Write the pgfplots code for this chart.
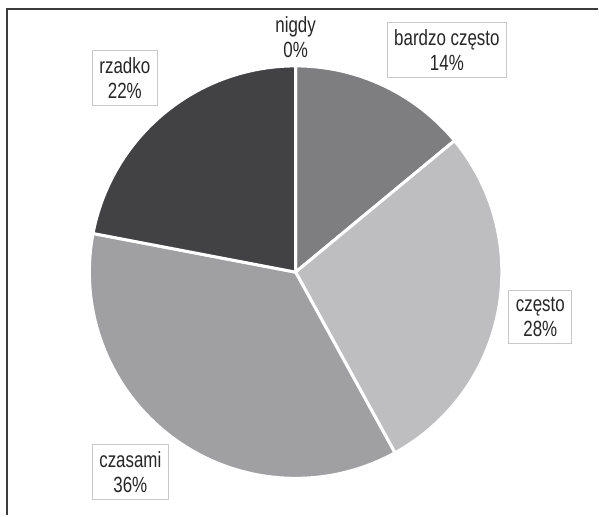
\documentclass[border=0pt]{standalone}
\usepackage{pgfplots}
\pgfplotsset{compat=1.18}
\usepackage{fontspec}
\setmainfont{Liberation Sans}[FakeStretch=0.77]
\definecolor{cA}{RGB}{126,126,128}
\definecolor{cB}{RGB}{190,190,192}
\definecolor{cC}{RGB}{160,160,162}
\definecolor{cD}{RGB}{66,66,68}
\definecolor{frame}{RGB}{60,60,60}
\definecolor{boxc}{RGB}{200,200,200}
\begin{document}
\begin{tikzpicture}
% shares in percent: bardzo czesto, czesto, czasami, rzadko, nigdy
\def\pA{14}\def\pB{28}\def\pC{36}\def\pD{22}\def\pE{0}
\pgfmathsetmacro\aO{90}
\pgfmathsetmacro\aA{\aO-3.6*\pA}
\pgfmathsetmacro\aB{\aA-3.6*\pB}
\pgfmathsetmacro\aC{\aB-3.6*\pC}
\pgfmathsetmacro\aD{\aC-3.6*\pD}
\def\cx{296}\def\cy{243.5}\def\r{206.5}
\begin{axis}[width=599pt,height=516pt,scale only axis,
  xmin=0,xmax=599,ymin=0,ymax=516,axis lines=none,ticks=none,clip=false]
\path (axis cs:0,0) rectangle (axis cs:599,516);
\draw[frame,line width=1.6pt] (axis cs:7,0) -- (axis cs:7,507) -- (axis cs:599,507);
\addplot[fill=cA,draw=white,line width=3pt,line join=round,domain=\aA:\aO,samples=80,variable=\t]
  ({\cx+\r*cos(\t)},{\cy+\r*sin(\t)}) -- (axis cs:\cx,\cy) -- cycle;
\addplot[fill=cB,draw=white,line width=3pt,line join=round,domain=\aB:\aA,samples=80,variable=\t]
  ({\cx+\r*cos(\t)},{\cy+\r*sin(\t)}) -- (axis cs:\cx,\cy) -- cycle;
\addplot[fill=cC,draw=white,line width=3pt,line join=round,domain=\aC:\aB,samples=80,variable=\t]
  ({\cx+\r*cos(\t)},{\cy+\r*sin(\t)}) -- (axis cs:\cx,\cy) -- cycle;
\addplot[fill=cD,draw=white,line width=3pt,line join=round,domain=\aD:\aC,samples=80,variable=\t]
  ({\cx+\r*cos(\t)},{\cy+\r*sin(\t)}) -- (axis cs:\cx,\cy) -- cycle;
\tikzset{lbl/.style={fill=white,draw=boxc,line width=1.2pt,align=center,inner xsep=7pt,inner ysep=7pt,
  font=\fontsize{22}{25}\selectfont,text=black!85}}
\node[lbl,draw=none,fill=none] at (axis cs:296,479) {nigdy\\\pE\%};
\node[lbl] at (axis cs:447.5,466) {bardzo często\\\pA\%};
\node[lbl] at (axis cs:541,198.5) {często\\\pB\%};
\node[lbl] at (axis cs:130.5,43.5) {czasami\\\pC\%};
\node[lbl] at (axis cs:125,437.5) {rzadko\\\pD\%};
\end{axis}
\end{tikzpicture}
\end{document}
